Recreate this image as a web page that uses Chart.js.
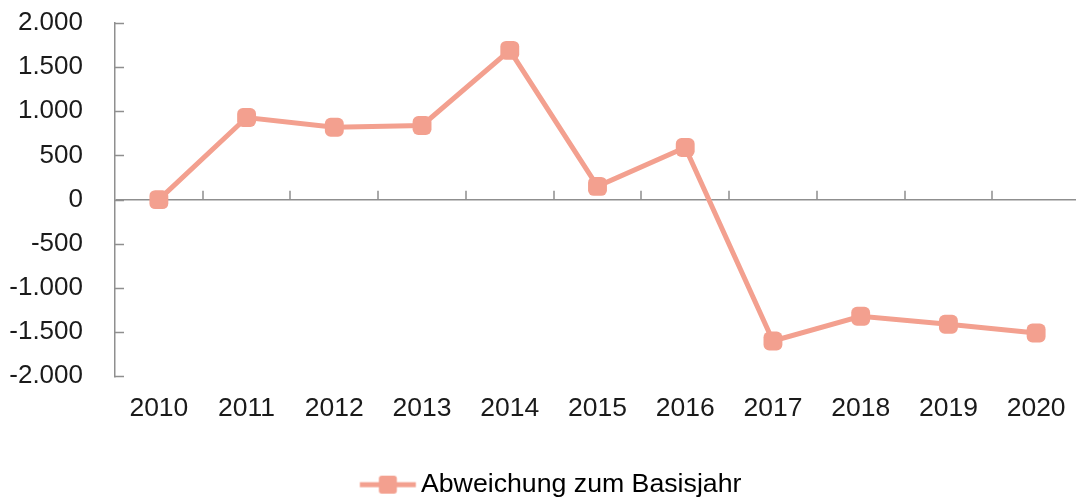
<!DOCTYPE html>
<html>
<head>
<meta charset="utf-8">
<script src="https://cdn.jsdelivr.net/npm/chart.js@4"></script>
<style>
  html, body { margin: 0; padding: 0; background: #fff; overflow: hidden; }
  #wrap { width: 1091px; height: 508px; }
</style>
</head>
<body>
<div id="wrap"><canvas id="myChart"></canvas></div>
<script>
// Daten
var years = ['2010', '2011', '2012', '2013', '2014', '2015', '2016', '2017', '2018', '2019', '2020']
var abweichung = [0, 930, 820, 840, 1690, 150, 590, -1600, -1320, -1410, -1510]
var yTicks = [-2000, -1500, -1000, -500, 0, 500, 1000, 1500, 2000]

var lineColor = '#f3a08f'
var axisColor = '#8f8f8f'
var textColor = '#1a1a1a'
var font = 'Liberation Sans, Arial, sans-serif'

function deNum(v) {
  var s = String(Math.abs(v)).replace(/\B(?=(\d{3})+(?!\d))/g, '.')
  return (v < 0 ? '-' : '') + s
}

// legend symbol: line with square marker
var legendIcon = document.createElement('canvas')
legendIcon.width = 80
legendIcon.height = 20
;(function () {
  var c = legendIcon.getContext('2d')
  c.strokeStyle = lineColor
  c.lineWidth = 5
  c.beginPath()
  c.moveTo(21.25, 10)
  c.lineTo(77.25, 10)
  c.stroke()
  c.fillStyle = lineColor
  c.beginPath()
  c.roundRect(40.25, 1, 18, 18, 3)
  c.fill()
})()

// inward ticks like the original
var axisTicks = {
  id: 'axisTicks',
  afterDatasetsDraw: function (chart) {
    var ctx = chart.ctx
    var x = chart.scales.x
    var y = chart.scales.y
    var left = chart.chartArea.left
    var zero = y.getPixelForValue(0)
    ctx.save()
    ctx.strokeStyle = axisColor
    ctx.lineWidth = 1.5
    ctx.beginPath()
    yTicks.forEach(function (t) {
      var py = Math.round(y.getPixelForValue(t)) + 0.5
      ctx.moveTo(left, py)
      ctx.lineTo(left + 9, py)
    })
    for (var i = 1; i < years.length; i++) {
      var px = Math.round((x.getPixelForValue(i - 1) + x.getPixelForValue(i)) / 2)
      ctx.moveTo(px, zero)
      ctx.lineTo(px, zero - 9)
    }
    ctx.stroke()
    ctx.restore()
  }
}

var ctx = document.getElementById('myChart')
var myChart = new Chart(ctx, {
  type: 'line',
  data: {
    labels: years,
    datasets: [{
      label: 'Abweichung zum Basisjahr',
      data: abweichung,
      borderColor: lineColor,
      backgroundColor: lineColor,
      borderWidth: 5,
      lineTension: 0,
      pointStyle: 'rectRounded',
      pointRadius: 11,
      pointHoverRadius: 11,
      pointBackgroundColor: lineColor,
      pointBorderWidth: 0
    }]
  },
  options: {
    responsive: true,
    maintainAspectRatio: false,
    animation: false,
    layout: { padding: { top: 23, left: 0, right: 0, bottom: 0 } },
    scales: {
      x: {
        offset: true,
        grid: { display: false, drawTicks: false },
        border: { display: false },
        ticks: {
          color: textColor,
          font: { family: font, size: 26.5 },
          padding: 16,
          maxRotation: 0
        },
        afterFit: function (s) { s.height = 93 }
      },
      y: {
        min: -2000,
        max: 2000,
        afterBuildTicks: function (s) {
          s.ticks = yTicks.map(function (v) { return { value: v } })
        },
        grid: {
          drawTicks: false,
          lineWidth: 1.5,
          color: function (c) { return c.tick && c.tick.value === 0 ? axisColor : 'rgba(0,0,0,0)' }
        },
        border: { display: true, color: axisColor, width: 1.5 },
        ticks: {
          color: textColor,
          font: { family: font, size: 26 },
          padding: 32,
          callback: function (v) { return deNum(v) }
        },
        afterFit: function (s) {
          s.width = 115
          s.paddingTop = 0
          s.paddingBottom = 0
        }
      }
    },
    plugins: {
      legend: {
        display: true,
        position: 'bottom',
        labels: {
          color: textColor,
          font: { family: font, size: 26.7 },
          usePointStyle: true,
          pointStyleWidth: 58,
          padding: 2,
          generateLabels: function (chart) {
            return [{
              text: chart.data.datasets[0].label,
              pointStyle: legendIcon,
              fillStyle: lineColor,
              strokeStyle: lineColor,
              lineWidth: 0,
              datasetIndex: 0
            }]
          }
        }
      },
      tooltip: { enabled: false }
    }
  },
  plugins: [axisTicks]
})
</script>
</body>
</html>
